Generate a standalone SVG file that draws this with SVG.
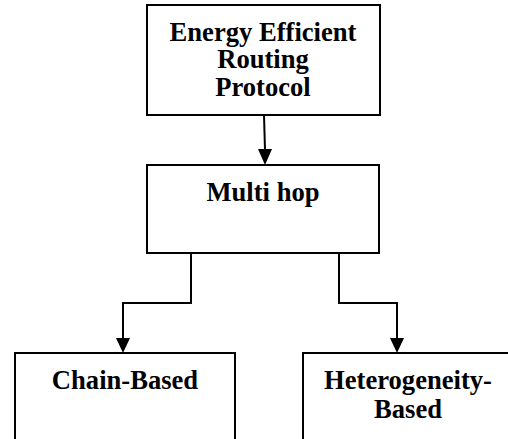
<svg xmlns="http://www.w3.org/2000/svg" width="508" height="439" viewBox="0 0 508 439">
<style>
.box{fill:#fff;stroke:#000;stroke-width:2}
.t{font-family:"Liberation Serif","Times New Roman",serif;font-weight:bold;font-size:26.6px;fill:#000;text-anchor:middle}
.c{fill:none;stroke:#000;stroke-width:2}
.ah{fill:#000}
</style>
<g id="n1"><rect class="box" x="147" y="5" width="233" height="110"/>
<text class="t" x="263" y="41">Energy Efficient</text>
<text class="t" x="263" y="68">Routing</text>
<text class="t" x="263" y="96">Protocol</text></g>
<g id="n2"><rect class="box" x="147" y="165" width="232" height="88"/>
<text class="t" x="263" y="201">Multi hop</text></g>
<g id="n3"><rect class="box" x="15" y="353" width="220" height="100"/>
<text class="t" x="125" y="389">Chain-Based</text></g>
<g id="n4"><rect class="box" x="303" y="353" width="220" height="100"/>
<text class="t" x="408" y="389">Heterogeneity-</text>
<text class="t" x="408" y="418">Based</text></g>
<g id="connectors">
<path class="c" d="M264,115 L265,150"/>
<path class="ah" d="M258,149 L272,149 L265,165 Z"/>
<path class="c" d="M191,253 V303 H123 V338"/>
<path class="ah" d="M116,338 L130,338 L123,353 Z"/>
<path class="c" d="M339,253 V303 H397 V338"/>
<path class="ah" d="M390,338 L404,338 L397,353 Z"/>
</g>
</svg>
